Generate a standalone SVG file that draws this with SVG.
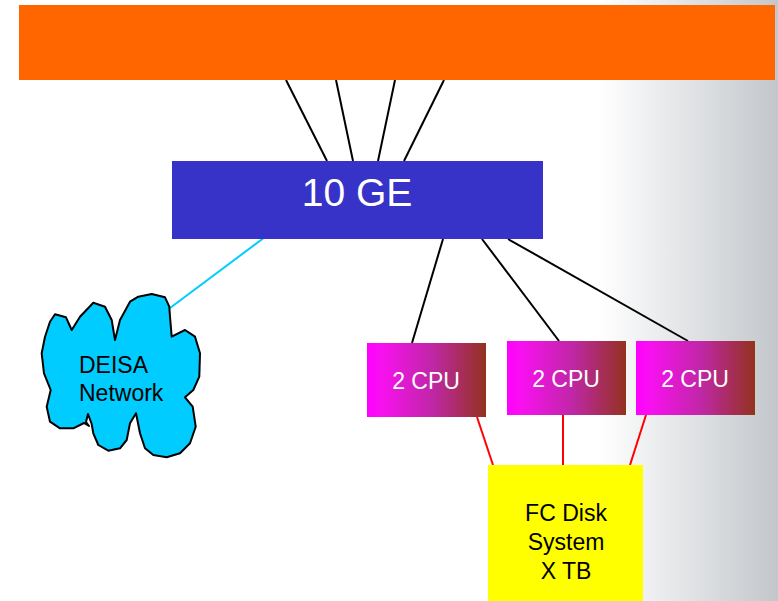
<svg xmlns="http://www.w3.org/2000/svg" width="778" height="601" viewBox="0 0 778 601">
  <defs>
    <linearGradient id="bg" x1="0" y1="0" x2="778" y2="0" gradientUnits="userSpaceOnUse">
      <stop offset="0" stop-color="#ffffff"/>
      <stop offset="0.77" stop-color="#ffffff"/>
      <stop offset="1" stop-color="#c3c7cb"/>
    </linearGradient>
    <linearGradient id="cpu" x1="0" y1="0" x2="1" y2="0">
      <stop offset="0" stop-color="#ff00ff"/>
      <stop offset="0.12" stop-color="#f810f0"/>
      <stop offset="0.55" stop-color="#c027a6"/>
      <stop offset="1" stop-color="#93321e"/>
    </linearGradient>
    <style>
      text { font-family: "Liberation Sans", Arial, sans-serif; }
      .wire { stroke: #000000; stroke-width: 2; fill: none; }
      .fc { stroke: #ff0000; stroke-width: 2; fill: none; }
      .wan { stroke: #00ccff; stroke-width: 2; fill: none; }
      .cpu-box { fill: url(#cpu); }
      .cpu-label { fill: #ffffff; font-size: 23px; text-anchor: middle; }
      .dark-label { fill: #000000; font-size: 23px; }
    </style>
  </defs>

  <!-- page background -->
  <rect x="0" y="0" width="778" height="601" fill="url(#bg)"/>

  <!-- connectors -->
  <g id="connectors">
    <line class="wire" x1="286" y1="80" x2="327" y2="161"/>
    <line class="wire" x1="336" y1="80" x2="353" y2="161"/>
    <line class="wire" x1="395" y1="80" x2="378" y2="161"/>
    <line class="wire" x1="444" y1="80" x2="404" y2="161"/>
    <line class="wire" x1="443" y1="239" x2="412" y2="343"/>
    <line class="wire" x1="482" y1="239" x2="559" y2="341"/>
    <line class="wire" x1="508" y1="239" x2="688" y2="341"/>
    <line class="wan" x1="265" y1="237" x2="170" y2="308"/>
    <line class="fc" x1="477" y1="417" x2="493" y2="465"/>
    <line class="fc" x1="563" y1="415" x2="563" y2="465"/>
    <line class="fc" x1="646" y1="415" x2="630" y2="465"/>
  </g>

  <!-- upstream backbone bar -->
  <g id="backbone">
    <rect x="19" y="5" width="756" height="75" fill="#ff6600"/>
  </g>

  <!-- 10 GE switch -->
  <g id="switch">
    <rect x="172" y="161" width="371" height="78" fill="#3733c9"/>
    <text x="357" y="206" fill="#ffffff" font-size="39" text-anchor="middle">10 GE</text>
  </g>

  <!-- DEISA network cloud -->
  <g id="deisa">
    <path d="M115,340 L120,320 L130,301.7 L138.3,296.7 L151.7,294 L165,297.3 L169.3,306.7 L170,316.7 L171.7,336.7 L185,330 L195,336.7 L200,353.3 L199.3,376.7 L193.3,390 L185,397.3 L192.7,406.7 L195.7,426.7 L190,443.3 L180,453.3 L166.7,457.3 L153.3,455 L145,448.3 L140,433.3 L136,413.3 L130,423.3 L126.7,440 L120,448.3 L108.3,450.7 L98.3,445 L93.3,433.3 L91.7,424 L88,414 L86,422 L89,426 L84,423 L73.3,428.3 L60,428.3 L50,421.7 L46.7,406.7 L50.7,390 L44,373.3 L41.7,353.3 L45,336.7 L50,321.7 L55,314.3 L66,317.3 L71.7,330 L80,316.7 L93.3,302.7 L105,306.7 L111.7,320 Z" fill="#00ccff" stroke="#000000" stroke-width="2" stroke-linejoin="round"/>
    <text class="dark-label" x="79" y="373">DEISA</text>
    <text class="dark-label" x="79" y="401">Network</text>
  </g>

  <!-- compute nodes -->
  <g id="cpu1">
    <rect class="cpu-box" x="367" y="343" width="119" height="74"/>
    <text class="cpu-label" x="426" y="389">2 CPU</text>
  </g>
  <g id="cpu2">
    <rect class="cpu-box" x="507" y="341" width="119" height="74"/>
    <text class="cpu-label" x="566" y="387">2 CPU</text>
  </g>
  <g id="cpu3">
    <rect class="cpu-box" x="636" y="341" width="119" height="74"/>
    <text class="cpu-label" x="695" y="387">2 CPU</text>
  </g>

  <!-- shared storage -->
  <g id="disk">
    <rect x="488" y="465" width="155" height="136" fill="#ffff00"/>
    <text class="dark-label" x="566" y="521" text-anchor="middle">FC Disk</text>
    <text class="dark-label" x="566" y="550" text-anchor="middle">System</text>
    <text class="dark-label" x="566" y="579" text-anchor="middle">X TB</text>
  </g>
</svg>
